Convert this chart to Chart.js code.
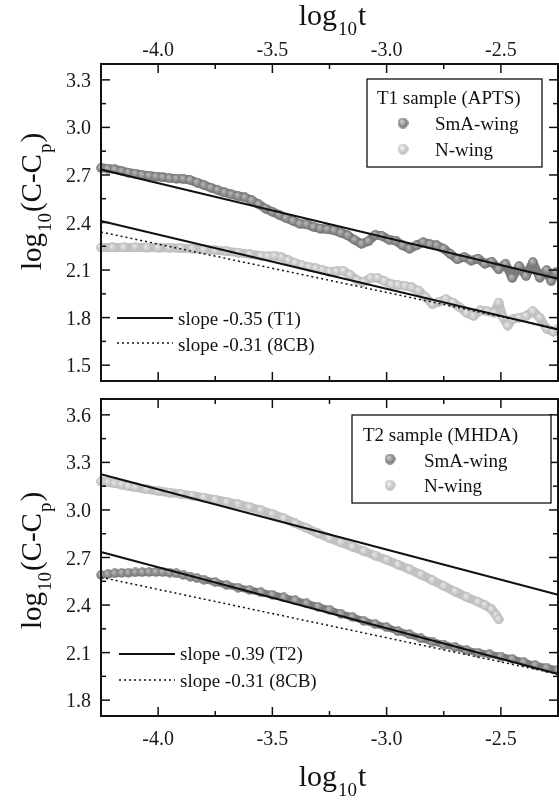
<!DOCTYPE html>
<html><head><meta charset="utf-8">
<script src="https://cdn.jsdelivr.net/npm/chart.js@4.4.1/dist/chart.umd.min.js"></script>
<style>
html,body{margin:0;padding:0;background:#fff;}
#wrap{position:relative;width:559px;height:800px;overflow:hidden;background:#fff;}
.box{position:absolute;left:0;width:559px;}
</style></head><body>
<div id="wrap">
<div class="box" style="top:0;height:390px"><canvas id="c1"></canvas></div>
<div class="box" style="top:390px;height:410px"><canvas id="c2"></canvas></div>
</div>
<script>
// ---------- axis ticks ----------
const xTicks = [-4.0, -3.5, -3.0, -2.5];
const xMinor = [-3.75, -3.25, -2.75];
const yTicksTop = [1.5, 1.8, 2.1, 2.4, 2.7, 3.0, 3.3];
const yMinorTop = [1.65, 1.95, 2.25, 2.55, 2.85, 3.15];
const yTicksBot = [1.8, 2.1, 2.4, 2.7, 3.0, 3.3, 3.6];
const yMinorBot = [1.95, 2.25, 2.55, 2.85, 3.15, 3.45];

// ---------- labels ----------
const legendTitleTop = "T1 sample (APTS)";
const legendTitleBot = "T2 sample (MHDA)";
const seriesNames = ["SmA-wing", "N-wing"];
const fitNamesTop = ["slope -0.35 (T1)", "slope -0.31 (8CB)"];
const fitNamesBot = ["slope -0.39 (T2)", "slope -0.31 (8CB)"];

// ---------- T1 (APTS) data ----------
const t1SmaX = [-4.25,-4.22,-4.19,-4.16,-4.13,-4.10,-4.07,-4.04,-4.01,-3.98,-3.95,-3.92,-3.89,-3.86,-3.83,-3.80,-3.77,-3.74,-3.71,-3.68,-3.65,-3.62,-3.59,-3.56,-3.53,-3.50,-3.47,-3.44,-3.41,-3.38,-3.35,-3.32,-3.29,-3.26,-3.23,-3.20,-3.17,-3.14,-3.11,-3.08,-3.05,-3.02,-2.99,-2.96,-2.93,-2.90,-2.87,-2.84,-2.81,-2.78,-2.75,-2.72,-2.69,-2.66,-2.63,-2.60,-2.57,-2.54,-2.51,-2.48,-2.45,-2.42,-2.39,-2.36,-2.33,-2.30,-2.28,-2.26];
const t1SmaY = [2.745,2.74,2.735,2.725,2.715,2.708,2.70,2.695,2.69,2.685,2.68,2.677,2.675,2.668,2.652,2.636,2.62,2.605,2.59,2.578,2.567,2.558,2.54,2.515,2.488,2.468,2.448,2.428,2.41,2.392,2.388,2.372,2.362,2.357,2.35,2.336,2.318,2.29,2.265,2.282,2.322,2.315,2.292,2.285,2.255,2.235,2.255,2.275,2.262,2.255,2.235,2.20,2.168,2.182,2.16,2.172,2.14,2.152,2.105,2.14,2.05,2.125,2.062,2.15,2.052,2.10,2.03,2.085];
const t1NX = [-4.25,-4.20,-4.15,-4.10,-4.05,-4.00,-3.95,-3.90,-3.85,-3.80,-3.75,-3.70,-3.65,-3.60,-3.55,-3.52,-3.49,-3.46,-3.43,-3.40,-3.37,-3.34,-3.31,-3.28,-3.25,-3.22,-3.19,-3.16,-3.13,-3.10,-3.07,-3.04,-3.01,-2.98,-2.95,-2.92,-2.89,-2.86,-2.83,-2.80,-2.77,-2.74,-2.71,-2.68,-2.65,-2.62,-2.59,-2.56,-2.53,-2.51,-2.49,-2.47,-2.45,-2.42,-2.39,-2.36,-2.33,-2.30,-2.27,-2.25];
const t1NY = [2.243,2.243,2.243,2.243,2.242,2.241,2.24,2.238,2.235,2.23,2.225,2.218,2.21,2.20,2.19,2.186,2.19,2.18,2.162,2.145,2.13,2.12,2.11,2.10,2.09,2.092,2.095,2.07,2.035,2.025,2.05,2.05,2.03,2.01,2.005,2.0,1.99,1.97,1.93,1.885,1.90,1.915,1.895,1.865,1.83,1.81,1.845,1.84,1.83,1.895,1.80,1.75,1.79,1.80,1.81,1.84,1.80,1.73,1.71,1.73];

// ---------- T2 (MHDA) data ----------
const t2SmaX = [-4.25,-4.22,-4.19,-4.16,-4.13,-4.10,-4.07,-4.04,-4.01,-3.98,-3.95,-3.92,-3.89,-3.86,-3.83,-3.80,-3.75,-3.70,-3.65,-3.60,-3.55,-3.50,-3.45,-3.40,-3.35,-3.30,-3.25,-3.20,-3.15,-3.10,-3.05,-3.00,-2.95,-2.90,-2.85,-2.80,-2.75,-2.70,-2.65,-2.60,-2.55,-2.50,-2.45,-2.40,-2.35,-2.30,-2.25];
const t2SmaY = [2.59,2.595,2.60,2.602,2.604,2.606,2.607,2.608,2.608,2.607,2.605,2.60,2.59,2.58,2.57,2.56,2.545,2.526,2.51,2.495,2.48,2.465,2.448,2.43,2.41,2.39,2.37,2.345,2.325,2.30,2.28,2.26,2.235,2.215,2.19,2.17,2.15,2.135,2.115,2.10,2.09,2.075,2.06,2.04,2.02,2.005,1.99];
const t2NX = [-4.25,-4.22,-4.19,-4.16,-4.13,-4.10,-4.05,-4.00,-3.95,-3.90,-3.85,-3.80,-3.75,-3.70,-3.65,-3.60,-3.55,-3.50,-3.45,-3.40,-3.35,-3.30,-3.25,-3.20,-3.15,-3.10,-3.05,-3.00,-2.95,-2.90,-2.85,-2.80,-2.75,-2.70,-2.65,-2.60,-2.57,-2.54,-2.52,-2.51];
const t2NY = [3.18,3.175,3.168,3.16,3.15,3.142,3.13,3.12,3.11,3.10,3.09,3.078,3.065,3.05,3.035,3.018,2.998,2.975,2.948,2.915,2.885,2.852,2.822,2.795,2.768,2.74,2.712,2.685,2.655,2.625,2.592,2.556,2.52,2.485,2.45,2.42,2.40,2.372,2.335,2.31];

// ---------- power-law fit lines (endpoints) ----------
const fitX = [-4.25, -2.25];
const t1FitSma = [2.735, 2.045];
const t1FitN = [2.41, 1.725];
const t1Fit8cb = [2.34, 1.73];
const t2FitN = [3.225, 2.465];
const t2FitSma = [2.735, 1.965];
const t2Fit8cb = [2.575, 1.965];

// ---------- helpers ----------
const SERIF = "'Liberation Serif', 'Times New Roman', serif";
function sphere(base, hi, d) {
  const c = document.createElement('canvas'); c.width = d; c.height = d;
  const g = c.getContext('2d'); const r = d / 2;
  const grad = g.createRadialGradient(r * 0.75, r * 0.7, r * 0.1, r, r, r);
  grad.addColorStop(0, hi); grad.addColorStop(1, base);
  g.fillStyle = grad; g.beginPath(); g.arc(r, r, r - 0.3, 0, Math.PI * 2); g.fill();
  return c;
}
const darkBall = sphere('#6e6e6e', '#b8b8b8', 10);
const lightBall = sphere('#b6b6b6', '#e6e6e6', 10);
const darkBallL = sphere('#666666', '#d0d0d0', 11);
const lightBallL = sphere('#b4b4b4', '#f2f2f2', 11);

function scatterDs(label, xs, ys, img, legendImg, band, bw) {
  return { type: 'scatter', label, data: xs.map((x, i) => ({ x, y: ys[i] })),
    pointStyle: img, legendImg, showLine: true, borderColor: band, borderWidth: bw,
    borderJoinStyle: 'round', borderCapStyle: 'round', order: 2, clip: false, pointRadius: 5 };
}
function fitDs(label, ys, dashed) {
  return { type: 'line', label, data: fitX.map((x, i) => ({ x, y: ys[i] })),
    borderColor: '#111', borderWidth: dashed ? 1.5 : 2, borderDash: dashed ? [2, 3] : [],
    pointRadius: 0, order: 0, fill: false, tension: 0, clip: false };
}

const deco = {
  id: 'deco',
  afterDraw(chart, args, o) {
    const { ctx, chartArea: a, scales } = chart;
    const xs = scales.x, ys = scales.y;
    ctx.save();
    ctx.strokeStyle = '#111';
    const seg = (x1, y1, x2, y2) => { ctx.beginPath(); ctx.moveTo(x1, y1); ctx.lineTo(x2, y2); ctx.stroke(); };
    ctx.lineWidth = 1.5;
    xTicks.forEach(v => { const p = xs.getPixelForValue(v); seg(p, a.top, p, a.top + 9); seg(p, a.bottom, p, a.bottom - 9); });
    xMinor.forEach(v => { const p = xs.getPixelForValue(v); seg(p, a.top, p, a.top + 5); seg(p, a.bottom, p, a.bottom - 5); });
    o.yMajor.forEach(v => { const p = ys.getPixelForValue(v); seg(a.left, p, a.left + 9, p); seg(a.right, p, a.right - 9, p); });
    o.yMinor.forEach(v => { const p = ys.getPixelForValue(v); seg(a.left, p, a.left + 5, p); seg(a.right, p, a.right - 5, p); });
    ctx.lineWidth = 2;
    ctx.strokeRect(a.left, a.top, a.right - a.left, a.bottom - a.top);

    // tick labels
    ctx.fillStyle = '#1a1a1a';
    ctx.textBaseline = 'alphabetic';
    ctx.font = '20px ' + SERIF;
    ctx.textAlign = 'center';
    xTicks.forEach(v => ctx.fillText(v.toFixed(1), xs.getPixelForValue(v), o.xLabelBase));
    ctx.textAlign = 'right';
    o.yMajor.forEach(v => ctx.fillText(v.toFixed(1), a.left - 10, ys.getPixelForValue(v) + 7));

    ctx.fillStyle = '#111';
    // x title: log10 t
    {
      const big = '30px ' + SERIF, small = '19px ' + SERIF;
      ctx.font = big; const w1 = ctx.measureText('log').width, w3 = ctx.measureText('t').width;
      ctx.font = small; const w2 = ctx.measureText('10').width;
      let x = (a.left + a.right) / 2 - (w1 + w2 + 2 + w3) / 2 + 3;
      ctx.textAlign = 'left';
      ctx.font = big; ctx.fillText('log', x, o.xTitleY); x += w1 + 1;
      ctx.font = small; ctx.fillText('10', x, o.xTitleY + 10); x += w2 + 1;
      ctx.font = big; ctx.fillText('t', x, o.xTitleY);
    }
    // y title: log10(C-Cp)
    {
      const big = '29px ' + SERIF, small = '19px ' + SERIF;
      const parts = [['log', big, 0], ['10', small, 10], ['(C-C', big, 0], ['p', small, 10], [')', big, 0]];
      let tot = 0; parts.forEach(p => { ctx.font = p[1]; p.push(ctx.measureText(p[0]).width); tot += p[3] + 1; });
      ctx.save(); ctx.translate(o.yTitleX, o.yTitleCY); ctx.rotate(-Math.PI / 2);
      ctx.textAlign = 'left';
      let x = -tot / 2;
      parts.forEach(p => { ctx.font = p[1]; ctx.fillText(p[0], x, p[2]); x += p[3] + 1; });
      ctx.restore();
    }
    // sphere legend box
    const b = o.box;
    ctx.fillStyle = '#fff'; ctx.fillRect(b.l, b.t, b.r - b.l, b.b - b.t);
    ctx.lineWidth = 1.3; ctx.strokeStyle = '#111'; ctx.strokeRect(b.l, b.t, b.r - b.l, b.b - b.t);
    ctx.fillStyle = '#111'; ctx.font = '19px ' + SERIF; ctx.textAlign = 'left';
    ctx.fillText(b.title, b.tx, b.ty);
    const sc = chart.data.datasets.filter(d => d.type === 'scatter');
    sc.forEach((d, i) => {
      const img = d.legendImg;
      ctx.drawImage(img, b.mx - img.width / 2, b.rows[i] - img.height / 2);
      ctx.fillText(d.label, b.ex, b.rowBase[i]);
    });
    // line legend
    const L = o.lines;
    const fits = chart.data.datasets.filter(d => d.type === 'line' && d.label);
    fits.forEach((d, i) => {
      ctx.strokeStyle = '#111'; ctx.lineWidth = d.borderWidth; ctx.setLineDash(d.borderDash);
      seg(L.x1, L.rows[i], L.x2, L.rows[i]);
      ctx.setLineDash([]);
      ctx.fillText(d.label, L.tx, L.base[i]);
    });
    ctx.restore();
  }
};

function xScale(pos, h) {
  return { type: 'linear', position: pos, min: -4.25, max: -2.25,
    afterBuildTicks: s => { s.ticks = xTicks.map(v => ({ value: v })); },
    afterFit: s => { s.height = h; },
    grid: { display: false, drawTicks: false }, border: { display: false },
    ticks: { display: false } };
}
function yScale(min, max, ticks) {
  return { type: 'linear', position: 'left', min, max,
    afterBuildTicks: s => { s.ticks = ticks.map(v => ({ value: v })); },
    afterFit: s => { s.width = 101; },
    grid: { display: false, drawTicks: false }, border: { display: false },
    ticks: { display: false } };
}

new Chart(document.getElementById('c1'), {
  type: 'scatter',
  data: { datasets: [
    fitDs(fitNamesTop[0], t1FitSma, false),
    fitDs(fitNamesTop[1], t1Fit8cb, true),
    fitDs('', t1FitN, false),
    scatterDs(seriesNames[0], t1SmaX, t1SmaY, darkBall, darkBallL, '#7c7c7c', 9),
    scatterDs(seriesNames[1], t1NX, t1NY, lightBall, lightBallL, '#c2c2c2', 9),
  ] },
  options: {
    responsive: true, maintainAspectRatio: false, animation: false, events: [],
    layout: { autoPadding: false, padding: { top: 0, right: 1, bottom: 9, left: 0 } },
    scales: { x: xScale('top', 64), y: yScale(1.4, 3.4, yTicksTop) },
    plugins: { legend: { display: false }, tooltip: { enabled: false },
      deco: { yMajor: yTicksTop, yMinor: yMinorTop, xLabelBase: 56, xTitleY: 25, yTitleX: 41, yTitleCY: 201,
        box: { l: 367, t: 79, r: 542, b: 167, title: legendTitleTop, tx: 377, ty: 104, mx: 403, ex: 435, rows: [123, 149], rowBase: [130, 156] },
        lines: { x1: 117, x2: 173, tx: 178, rows: [318, 343], base: [325, 351] } } }
  },
  plugins: [deco]
});

new Chart(document.getElementById('c2'), {
  type: 'scatter',
  data: { datasets: [
    fitDs(fitNamesBot[0], t2FitSma, false),
    fitDs(fitNamesBot[1], t2Fit8cb, true),
    fitDs('', t2FitN, false),
    scatterDs(seriesNames[0], t2SmaX, t2SmaY, darkBall, darkBallL, '#7c7c7c', 7),
    scatterDs(seriesNames[1], t2NX, t2NY, lightBall, lightBallL, '#c2c2c2', 9),
  ] },
  options: {
    responsive: true, maintainAspectRatio: false, animation: false, events: [],
    layout: { autoPadding: false, padding: { top: 9, right: 1, bottom: 0, left: 0 } },
    scales: { x: xScale('bottom', 84), y: yScale(1.7, 3.7, yTicksBot) },
    plugins: { legend: { display: false }, tooltip: { enabled: false },
      deco: { yMajor: yTicksBot, yMinor: yMinorBot, xLabelBase: 355, xTitleY: 396, yTitleX: 41, yTitleCY: 170,
        box: { l: 352, t: 25, r: 551, b: 113, title: legendTitleBot, tx: 363, ty: 51, mx: 390, ex: 424, rows: [69, 95], rowBase: [77, 102] },
        lines: { x1: 119, x2: 175, tx: 180, rows: [264, 290], base: [270, 297] } } }
  },
  plugins: [deco]
});
</script>
</body></html>
